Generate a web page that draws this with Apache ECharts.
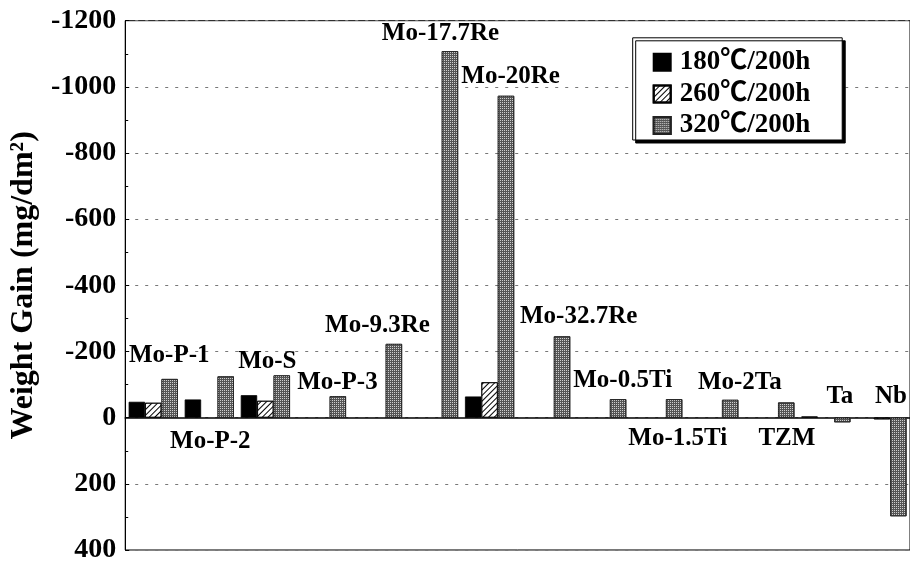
<!DOCTYPE html>
<html>
<head>
<meta charset="utf-8">
<script src="https://cdn.jsdelivr.net/npm/echarts@6/dist/echarts.min.js"></script>
<style>
html,body{margin:0;padding:0;background:#fff;}
#chart{width:910px;height:564px;}
</style>
</head>
<body>
<div id="chart"></div>
<script>
// ---- data ----
const categories = ['Mo-P-1','Mo-P-2','Mo-S','Mo-P-3','Mo-9.3Re','Mo-17.7Re','Mo-20Re','Mo-32.7Re','Mo-0.5Ti','Mo-1.5Ti','Mo-2Ta','TZM','Ta','Nb'];
const seriesNames = ['180\u2103/200h','260\u2103/200h','320\u2103/200h'];
const gain180 = [-48, -55, -68, null, null, null, -64, null, null, null, null, null, -4, null];
const gain260 = [-45, null, -51, null, null, null, -107, null, null, null, null, null, null, 5];
const gain320 = [-117, -125, -128, -65, -223, -1108, -973, -246, -56, -56, -54, -46, 14, 298];
const yTicks = [-1200, -1000, -800, -600, -400, -200, 0, 200, 400];
const yName = 'Weight Gain (mg/dm\u00b2)';

// ---- layout of the alloy labels (value-space anchor + pixel shift) ----
const labelAnchorY = [-188, 72, -170, -107, -279, -1160, -1031, -306, -113, 64, -107, 64, -65, -65];
const labelShiftX = [16, 1, 2, 16, 0, 7, 21, 33, 21, 20, 26, 17, 14, 9];

const FONT = "'Liberation Serif','Times New Roman','Noto Sans CJK JP',serif";

const chart = echarts.init(document.getElementById('chart'), null, {renderer:'canvas'});

const barBase = {type:'bar', barWidth:16.4, barGap:'0%', silent:true};

const option = {
  animation:false,
  backgroundColor:'#fff',
  grid:{left:115, top:20.7, width:799, height:533.3, show:true, borderColor:'#000', borderWidth:1, backgroundColor:'transparent'},
  legend:{
    data:seriesNames, left:632.7, top:37.8, orient:'vertical', icon:'rect',
    itemWidth:17, itemHeight:17, itemGap:4.6, padding:[11,32,1,20],
    backgroundColor:'#fff', borderColor:'#000', borderWidth:1,
    shadowColor:'#000', shadowOffsetX:3, shadowOffsetY:3, shadowBlur:0,
    selectedMode:false,
    textStyle:{fontFamily:FONT, fontWeight:'bold', fontSize:27, color:'#000', lineHeight:26, padding:[0,0,0,4]}
  },
  xAxis:{
    type:'category', data:categories, boundaryGap:true,
    axisLabel:{show:false}, axisTick:{show:false},
    axisLine:{show:true, onZero:true, lineStyle:{color:'#000', width:1.5}},
    splitLine:{show:false}
  },
  yAxis:{
    type:'value', inverse:true,
    min:yTicks[0], max:yTicks[yTicks.length-1], interval:yTicks[1]-yTicks[0],
    name:yName, nameLocation:'middle', nameGap:76,
    nameTextStyle:{fontFamily:FONT, fontWeight:'bold', fontSize:32, color:'#000'},
    axisLine:{show:true, lineStyle:{color:'#000', width:1}},
    axisTick:{show:true, inside:true, length:4, lineStyle:{color:'#000'}},
    minorTick:{show:true, splitNumber:2, length:3, lineStyle:{color:'#000'}},
    splitLine:{show:true, lineStyle:{color:'#777', type:[3,7], width:1}},
    axisLabel:{fontFamily:FONT, fontWeight:'bold', fontSize:28, color:'#000', margin:9, formatter:v=>String(v)}
  },
  series:[
    Object.assign({}, barBase, {name:seriesNames[0], data:gain180,
      itemStyle:{color:'#000', borderColor:'#000', borderWidth:0.8}}),
    Object.assign({}, barBase, {name:seriesNames[1], data:gain260,
      itemStyle:{color:'#fff', borderColor:'#000', borderWidth:0.8,
        decal:{symbol:'rect', symbolSize:1, color:'#000', dashArrayX:[1,0], dashArrayY:[1,3], rotation:-Math.PI/4}}}),
    Object.assign({}, barBase, {name:seriesNames[2], data:gain320,
      itemStyle:{color:'#555', borderColor:'#222', borderWidth:0.8,
        decal:{symbol:'rect', symbolSize:1, color:'#cfcfcf', dashArrayX:[1,1], dashArrayY:[1,1]}}})
  ]
};
chart.setOption(option);

// alloy name labels, anchored through the chart's own axes
const texts = categories.map((name, i) => {
  const p = chart.convertToPixel({xAxisIndex:0, yAxisIndex:0}, [i, labelAnchorY[i]]);
  return {
    type:'text', x:p[0] + labelShiftX[i], y:p[1], silent:true, z:10,
    style:{text:name, fill:'#000', font:"bold 25px " + FONT, align:'center', verticalAlign:'middle'}
  };
});
chart.setOption({graphic:{elements:texts}});
</script>
</body>
</html>
